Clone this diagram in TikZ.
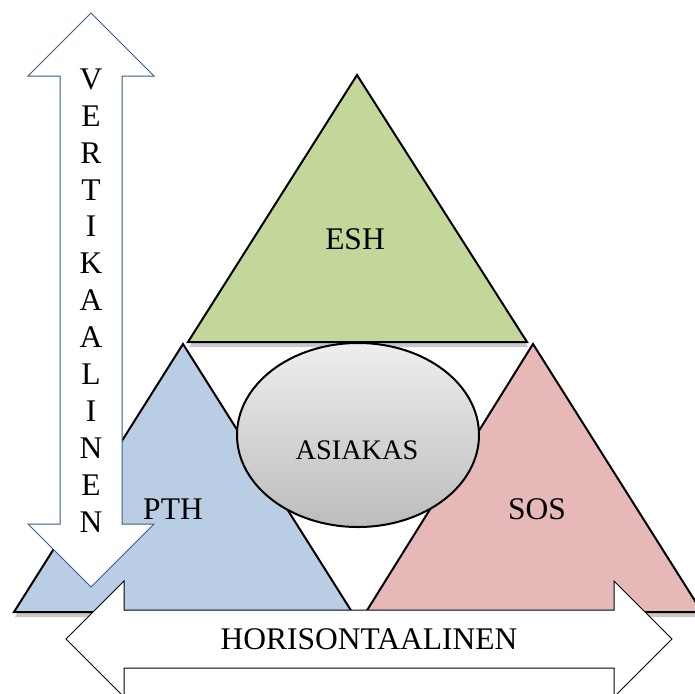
\documentclass[tikz,border=0pt]{standalone}
\usepackage{fontspec}
\setmainfont{Liberation Serif}
\usetikzlibrary{shapes.geometric}
\definecolor{eshgreen}{RGB}{196,215,155}
\definecolor{pthblue}{RGB}{185,205,229}
\definecolor{sospink}{RGB}{230,185,184}
\definecolor{arrowblue}{RGB}{56,93,138}
\definecolor{shadowgray}{RGB}{200,200,200}
\definecolor{elltop}{RGB}{238,238,238}
\definecolor{ellbot}{RGB}{188,188,188}
\begin{document}
\begin{tikzpicture}[x=1pt,y=-1pt,
  tri/.style={draw=black,line width=2pt,line join=miter},
  lbl/.style={font=\fontsize{31.5}{36}\selectfont,inner sep=0pt,anchor=center},
  vletter/.style={font=\fontsize{31.5}{36}\selectfont,inner sep=0pt,anchor=center}]
\useasboundingbox (0,0) rectangle (695,693);
\clip (0,0) rectangle (695,693);
% shadows
\fill[shadowgray] (189,347) -- (358,80) -- (528,347) -- cycle;
\fill[shadowgray] (15,617) -- (184,349) -- (353,617) -- cycle;
\fill[shadowgray] (367,617) -- (534,349) -- (703,617) -- cycle;
% triangles
\draw[tri,fill=eshgreen] (188,342) -- (357,75) -- (527,342) -- cycle;
\draw[tri,fill=pthblue] (14,612) -- (183,344) -- (352,612) -- cycle;
\draw[tri,fill=sospink] (366,612) -- (533,344) -- (702,612) -- cycle;
\node[lbl] (esh) at (355,239) {ESH};
\node[lbl] (pth) at (173,509) {PTH};
\node[lbl] (sos) at (537,509) {SOS};
% ellipse
\node[ellipse,draw=black,line width=2pt,minimum width=242pt,minimum height=184pt,
  top color=elltop,bottom color=ellbot,inner sep=0pt] (asiakas) at (358,435) {};
\node[font=\fontsize{28.3}{34}\selectfont,inner sep=0pt,anchor=center] (asiakastext) at (357,450) {ASIAKAS};
% vertical double arrow
\draw[draw=arrowblue,fill=white,line width=1pt,line join=miter]
  (91,13) -- (154,76) -- (122,76) -- (122,524) -- (154,524) -- (91,587)
  -- (28,524) -- (60,524) -- (60,76) -- (28,76) -- cycle;
\foreach \l [count=\i from 0] in {V,E,R,T,I,K,A,A,L,I,N,E,N}{
  \node[vletter] (v\i) at (91,{79+\i*36.9}) {\l};
}
% horizontal double arrow
\draw[draw=black,fill=white,line width=1pt,line join=miter]
  (66,639) -- (124,581) -- (124,610) -- (614,610) -- (614,581) -- (672,639)
  -- (614,697) -- (614,668) -- (124,668) -- (124,697) -- cycle;
\node[lbl] (hor) at (369,639) {HORISONTAALINEN};
\end{tikzpicture}
\end{document}
